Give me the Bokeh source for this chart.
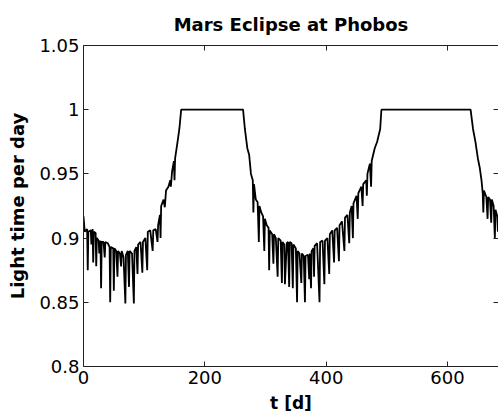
from bokeh.plotting import figure
from bokeh.models import LinearAxis, FixedTicker, Range1d, CustomLabelingPolicy
from bokeh.embed import file_html
from bokeh.resources import INLINE

# ---- data ----
t_days = [
    0, 2, 6, 7, 8, 12, 13, 15, 16, 17, 20, 21, 22, 25, 26, 28, 29, 30, 33, 35, 36,
    40, 43, 44, 45, 49, 50, 51, 54, 56, 57, 60, 62, 63, 66, 69, 70, 73, 75, 76,
    80, 83, 84, 87, 89, 90, 94, 97, 98, 102, 105, 106, 110, 114, 115, 119, 122, 123,
    126, 127, 128, 132, 134, 136, 140, 143, 144, 146, 149, 150, 151, 155, 158, 161,
    263, 266, 270, 273, 276, 279, 280, 281, 284, 287, 289, 290, 293, 296, 298, 299,
    302, 305, 306, 307, 311, 313, 314, 317, 320, 321, 325, 327, 328, 331, 332, 335,
    337, 339, 340, 343, 345, 346, 350, 352, 353, 356, 359, 360, 363, 365, 366,
    370, 372, 373, 375, 376, 379, 380, 381, 385, 389, 390, 394, 397, 398, 402, 405,
    406, 410, 413, 414, 418, 421, 422, 426, 430, 431, 435, 438, 439, 442, 444, 445,
    450, 452, 453, 458, 460, 461, 466, 467, 468, 472, 474, 475, 480, 484, 489, 491,
    638, 642, 646, 650, 653, 656, 658, 659, 660, 664, 666, 667, 670, 672, 673,
    676, 678, 679, 682, 683, 684, 686, 687,
]
light_frac = [
    0.917, 0.905, 0.907, 0.875, 0.905, 0.906, 0.895, 0.907, 0.881, 0.905, 0.904, 0.878, 0.900, 0.898, 0.888, 0.898, 0.861, 0.897, 0.897, 0.885, 0.897,
    0.896, 0.893, 0.850, 0.893, 0.892, 0.859, 0.892, 0.890, 0.870, 0.890, 0.888, 0.878, 0.890, 0.885, 0.849, 0.887, 0.890, 0.862, 0.890,
    0.888, 0.849, 0.890, 0.893, 0.872, 0.895, 0.897, 0.873, 0.897, 0.900, 0.875, 0.905, 0.906, 0.890, 0.906, 0.907, 0.897, 0.910,
    0.918, 0.900, 0.925, 0.930, 0.924, 0.937, 0.940, 0.945, 0.940, 0.952, 0.960, 0.945, 0.962, 0.975, 0.985, 1.000,
    1.000, 0.985, 0.970, 0.965, 0.950, 0.945, 0.920, 0.942, 0.930, 0.928, 0.897, 0.925, 0.920, 0.917, 0.890, 0.915,
    0.910, 0.908, 0.875, 0.906, 0.903, 0.880, 0.903, 0.900, 0.870, 0.900, 0.898, 0.865, 0.897, 0.895, 0.864, 0.896,
    0.897, 0.862, 0.897, 0.896, 0.861, 0.895, 0.892, 0.850, 0.890, 0.888, 0.865, 0.888, 0.886, 0.850, 0.886,
    0.887, 0.868, 0.888, 0.861, 0.890, 0.892, 0.870, 0.894, 0.896, 0.850, 0.897, 0.898, 0.864, 0.898, 0.900, 0.872,
    0.903, 0.906, 0.881, 0.906, 0.908, 0.882, 0.910, 0.913, 0.890, 0.916, 0.918, 0.896, 0.920, 0.925, 0.900, 0.927,
    0.933, 0.915, 0.935, 0.940, 0.925, 0.942, 0.945, 0.933, 0.950, 0.958, 0.940, 0.960, 0.970, 0.975, 0.985, 1.000,
    1.000, 0.985, 0.975, 0.962, 0.955, 0.945, 0.935, 0.920, 0.937, 0.932, 0.915, 0.932, 0.930, 0.912, 0.930,
    0.925, 0.900, 0.922, 0.917, 0.905, 0.915, 0.890, 0.890,
]
x_ticks = [0, 200, 400, 600]
y_ticks = [0.8, 0.85, 0.9, 0.95, 1.0, 1.05]
y_tick_labels = ["0.8", "0.85", "0.9", "0.95", "1", "1.05"]

FONT = "DejaVu Sans"

p = figure(width=498, height=416, output_backend="svg", toolbar_location=None,
           x_range=Range1d(0, 684), y_range=Range1d(0.8, 1.05),
           x_axis_type=None, y_axis_type=None,
           min_border_left=83, min_border_right=0, min_border_top=45, min_border_bottom=50,
           title="Mars Eclipse at Phobos")
p.title.align = "center"
p.title.text_font = FONT
p.title.text_font_size = "18px"
p.title.text_font_style = "bold"
p.title.text_color = "black"
p.title.offset = 0
p.title.standoff = 22
p.outline_line_color = None
p.background_fill_color = "white"
p.border_fill_color = "white"

hide_labels = CustomLabelingPolicy(code="for (let i = 0; i < indices.size; i++) { indices.unset(i) }; return indices")

def style(ax, labels=True):
    ax.major_tick_in = 5
    ax.major_tick_out = 0
    ax.minor_tick_line_color = None
    ax.axis_line_color = "#222222"
    ax.major_tick_line_color = "#222222"
    ax.axis_line_width = 1
    if labels:
        ax.major_label_text_font = FONT
        ax.major_label_text_font_size = "18px"
        ax.major_label_text_color = "black"
    else:
        ax.major_label_policy = hide_labels
        ax.major_label_text_font_size = "0px"
        ax.major_label_standoff = 0

xb = LinearAxis(ticker=FixedTicker(ticks=x_ticks), axis_label="t [d]")
style(xb)
xb.major_label_standoff = 4
xb.axis_label_standoff = 6
xb.axis_label_text_font = FONT
xb.axis_label_text_font_size = "17px"
xb.axis_label_text_font_style = "bold"
xb.axis_label_text_color = "black"
p.add_layout(xb, "below")

yl = LinearAxis(ticker=FixedTicker(ticks=y_ticks), axis_label="Light time per day")
style(yl)
yl.major_label_overrides = {v: s for v, s in zip(y_ticks, y_tick_labels)}
yl.major_label_standoff = 4
yl.axis_label_standoff = 8
yl.axis_label_text_font = FONT
yl.axis_label_text_font_size = "18px"
yl.axis_label_text_font_style = "bold"
yl.axis_label_text_color = "black"
p.add_layout(yl, "left")

xt = LinearAxis(ticker=FixedTicker(ticks=x_ticks))
style(xt, labels=False)
p.add_layout(xt, "above")

yr = LinearAxis(ticker=FixedTicker(ticks=y_ticks))
style(yr, labels=False)
yr.axis_line_color = None
p.add_layout(yr, "right")

p.xgrid.visible = False
p.ygrid.visible = False

p.line(t_days, light_frac, line_color="black", line_width=1.8)

open("out.html", "w").write(file_html(p, INLINE))
